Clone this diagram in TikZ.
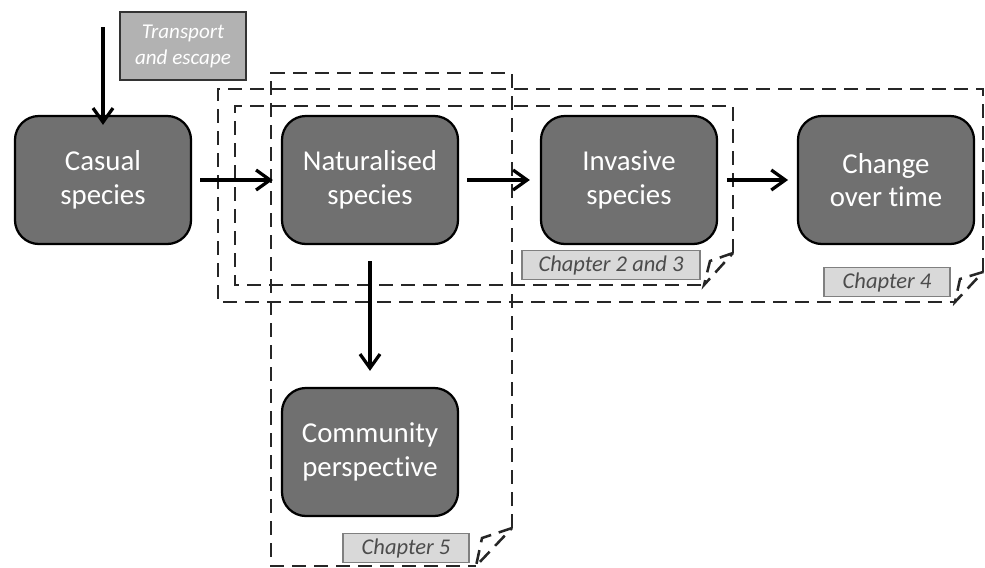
\documentclass[tikz,border=0pt]{standalone}
\usepackage{fontspec}
\setmainfont[Ligatures=NoCommon]{Carlito}
\usetikzlibrary{arrows.meta}

\begin{document}
\begin{tikzpicture}[
    x=0.025cm, y=-0.025cm,
    stage/.style={draw=black, line width=1.6pt, fill=black!56, rounded corners=0.6cm,
        minimum width=4.4cm, minimum height=3.2cm, align=center, text=white,
        font=\fontsize{20.5}{24}\selectfont},
    trans/.style={draw=black!80, line width=1pt, fill=black!30, minimum width=3.15cm,
        minimum height=1.7cm, align=center, text=white, font=\fontsize{15}{18.5}\selectfont\itshape},
    chap/.style={draw=black!50, line width=0.8pt, fill=black!15, minimum height=0.62cm,
        align=center, text=black!70, font=\fontsize{16}{18}\selectfont\itshape},
    frame/.style={dashed, dash pattern=on 0.35cm off 0.2cm, line width=1.8pt, black!85},
    arrow/.style={-{Straight Barb[length=3.5mm, width=5mm]}, line width=2.3pt}
]
\useasboundingbox (0,0) rectangle (985,567);

% Chapter frames (dashed, folded corner)
\draw[frame] (512,528) -- (512,73) -- (271,73) -- (271,566) -- (476,566);
\draw[frame] (512,528) -- (482,538) -- (476,566) -- cycle;
\draw[frame] (983,272) -- (983,89) -- (218,89) -- (218,302) -- (955,302);
\draw[frame] (983,272) -- (960,279) -- (955,302) -- cycle;
\draw[frame] (733,253) -- (733,106) -- (235,106) -- (235,285) -- (704,285);
\draw[frame] (733,253) -- (710,261) -- (704,285) -- cycle;

% Stages
\node[stage] (casual) at (103,180) {Casual\\species};
\node[stage] (natural) at (370,180) {Naturalised\\species};
\node[stage] (invasive) at (629,180) {Invasive\\species};
\node[stage] (change) at (886,180) {Change\\over time};
\node[stage] (community) at (370,452) {Community\\perspective};

\node[trans] (transport) at (183,46) {Transport\\and escape};
\coordinate (entry) at (103,27);

% Chapter labels
\node[chap, minimum width=4.45cm] (ch23) at (611,265) {Chapter 2 and 3};
\node[chap, minimum width=3.15cm] (ch4) at (887,282) {Chapter 4};
\node[chap, minimum width=3.15cm] (ch5) at (406,548) {Chapter 5};

% Arrows
\draw[arrow] (entry) -- ([yshift=-0.25cm]casual.north);
\draw[arrow] ([xshift=0.2cm]casual.east) -- ([xshift=-0.2cm]natural.west);
\draw[arrow] ([xshift=0.2cm]natural.east) -- ([xshift=-0.25cm]invasive.west);
\draw[arrow] ([xshift=0.22cm]invasive.east) -- ([xshift=-0.22cm]change.west);
\draw[arrow] ([yshift=-0.4cm]natural.south) -- ([yshift=0.4cm]community.north);

\end{tikzpicture}
\end{document}
